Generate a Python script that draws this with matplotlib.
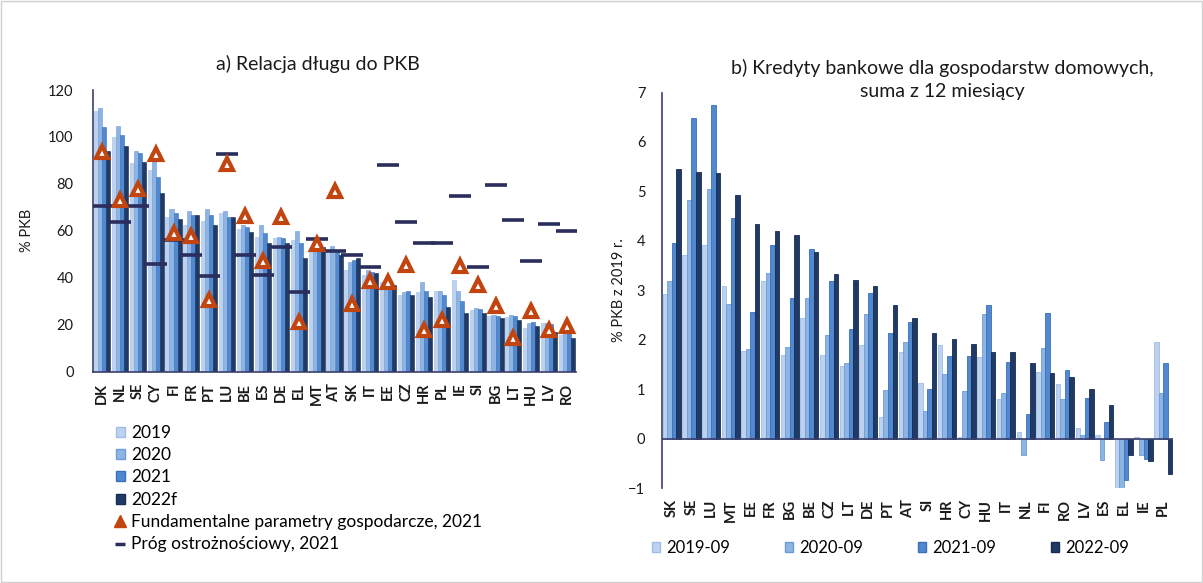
import matplotlib
matplotlib.use("Agg")
import matplotlib.pyplot as plt
import numpy as np
from matplotlib.patches import Patch, Rectangle
from matplotlib.lines import Line2D

plt.rcParams['font.family'] = ['Lato', 'DejaVu Sans']

# ---------------- Panel a data ----------------
countries_a = ['DK', 'NL', 'SE', 'CY', 'FI', 'FR', 'PT', 'LU', 'BE', 'ES', 'DE', 'EL', 'MT', 'AT',
               'SK', 'IT', 'EE', 'CZ', 'HR', 'PL', 'IE', 'SI', 'BG', 'LT', 'HU', 'LV', 'RO']
debt_2019 = [111, 100, 89, 86, 66, 62.5, 64, 67.5, 61, 57.5, 56.8, 56, 52, 51,
             43.3, 41.2, 38.4, 32.7, 34, 34.4, 39, 26.3, 23.9, 23.2, 18.8, 20.6, 15.6]
debt_2020 = [112.5, 104.7, 94, 90, 69.3, 68.5, 69.3, 68.5, 62.5, 62.5, 57.5, 60, 56, 53.7,
             46.9, 43.3, 39.1, 34.1, 38, 34.4, 34.4, 27.3, 24.1, 24.1, 20.6, 20.6, 16.3]
debt_2021 = [104.4, 100.8, 93, 83, 67.5, 66.8, 66.8, 66, 61.8, 59, 57, 55, 55, 51.8,
             47.6, 42.3, 38.4, 34.4, 34.4, 32.7, 30.1, 26.7, 23.9, 23.8, 21, 20.2, 16.3]
debt_2022f = [94, 96, 89.5, 76.3, 65, 66.8, 62.5, 66, 59.7, 54.7, 55, 48.5, 53, 49.7,
              48.4, 41.9, 37, 32.7, 32, 27.7, 24.8, 24.8, 23, 22, 19.6, 17, 14.2]
fundamentals_2021 = [93.5, 73, 77.8, 92.7, 59, 58, 30.6, 88.5, 66.5, 47, 66, 21, 54.5, 77,
                     29, 38.8, 38, 45.6, 17.8, 22, 45, 37, 28.2, 14.2, 25.7, 17.8, 19.6]
threshold_2021 = [70.7, 63.9, 70.7, 46, 56, 49.7, 40.9, 92.6, 49.7, 41, 53, 34, 56.5, 51.4,
                  49.7, 44.4, 88, 63.6, 55, 55, 75, 44.4, 79.5, 64.5, 47, 62.8, 60]
labels_a = ['2019', '2020', '2021', '2022f']

# ---------------- Panel b data ----------------
countries_b = ['SK', 'SE', 'LU', 'MT', 'EE', 'FR', 'BG', 'BE', 'CZ', 'LT', 'DE', 'PT', 'AT',
               'SI', 'HR', 'CY', 'HU', 'IT', 'NL', 'FI', 'RO', 'LV', 'ES', 'EL', 'IE', 'PL']
credit_2019_09 = [2.92, 3.71, 3.92, 3.08, 1.77, 3.18, 1.69, 2.43, 1.69, 1.47, 1.90, 0.44, 1.75,
                  1.13, 1.89, 0.04, 1.64, 0.81, 0.14, 1.35, 1.10, 0.21, 0.08, -1.0, 0.03, 1.96]
credit_2020_09 = [3.18, 4.83, 5.04, 2.72, 1.81, 3.34, 1.85, 2.84, 2.09, 1.52, 2.52, 0.98, 1.96,
                  0.56, 1.30, 0.96, 2.52, 0.93, -0.33, 1.84, 0.80, 0.08, -0.44, -1.0, -0.33, 0.93]
credit_2021_09 = [3.96, 6.49, 6.74, 4.47, 2.55, 3.92, 2.84, 3.83, 3.18, 2.21, 2.95, 2.13, 2.35,
                  1.01, 1.67, 1.67, 2.70, 1.55, 0.50, 2.54, 1.38, 0.83, 0.34, -0.84, -0.42, 1.53]
credit_2022_09 = [5.45, 5.40, 5.37, 4.93, 4.33, 4.20, 4.12, 3.78, 3.32, 3.21, 3.08, 2.70, 2.43,
                  2.13, 2.01, 1.92, 1.75, 1.75, 1.53, 1.33, 1.25, 1.00, 0.67, -0.33, -0.45, -0.72]
labels_b = ['2019-09', '2020-09', '2021-09', '2022-09']

# ---------------- Styling ----------------
colors = ['#bcd2ef', '#8db4e3', '#5089d0', '#1f3a66']
edges = ['#9fbde6', '#6e9cd6', '#3a70b8', '#172c50']
tri_col = '#c2440f'
thr_col = '#2b2d5c'
axis_col = '#3a3f6b'
txt_col = '#1a1a1a'

W, H = 1203, 583
fig = plt.figure(figsize=(W / 100, H / 100), dpi=100)
fig.patches.append(Rectangle((0.0008, 0.001), 0.998, 0.997, transform=fig.transFigure,
                             fill=False, edgecolor='#d0d0d0', linewidth=1.0))

# ---------------- Panel a ----------------
axa = fig.add_axes([93 / W, 1 - 371.7 / H, (576 - 93) / W, (371.7 - 90) / H])
xa = np.arange(len(countries_a))
series_a = [debt_2019, debt_2020, debt_2021, debt_2022f]
w = 0.225
for i, s in enumerate(series_a):
    axa.bar(xa + (i - 1.5) * w, s, width=w, color=colors[i], edgecolor=edges[i],
            linewidth=0.4, label=labels_a[i], zorder=2)
axa.plot(xa, fundamentals_2021, linestyle='none', marker='^', markersize=8.5,
         markerfacecolor='white', markeredgecolor=tri_col, markeredgewidth=3.0, zorder=4)
axa.plot(xa, threshold_2021, linestyle='none', marker='_', markersize=16,
         markeredgecolor=thr_col, markeredgewidth=2.6, zorder=3)
axa.set_xlim(-0.5, len(countries_a) - 0.5)
axa.set_ylim(0, 120)
axa.set_yticks(np.arange(0, 121, 20))
axa.set_xticks(xa)
axa.set_xticklabels(countries_a, rotation=90, fontsize=10.5, fontweight='bold', color=txt_col)
axa.tick_params(axis='y', length=0, labelsize=10.5, labelcolor=txt_col, pad=14)
axa.tick_params(axis='x', length=0, pad=8)
for sp in ['top', 'right']:
    axa.spines[sp].set_visible(False)
for sp in ['left', 'bottom']:
    axa.spines[sp].set_color(axis_col)
    axa.spines[sp].set_linewidth(1.2)
axa.set_ylabel('% PKB', fontsize=10.5, color=txt_col, labelpad=10)
fig.text(318 / W, 1 - 64 / H, 'a) Relacja długu do PKB', ha='center', va='center',
         fontsize=14, color=txt_col)

handles_a = [Patch(facecolor=colors[i], edgecolor=edges[i]) for i in range(4)]
handles_a += [Line2D([], [], linestyle='none', marker='^', markersize=8,
                     markerfacecolor=tri_col, markeredgecolor=tri_col),
              Line2D([], [], linestyle='none', marker='_', markersize=7,
                     markeredgecolor=thr_col, markeredgewidth=2.5)]
leg_labels_a = labels_a + ['Fundamentalne parametry gospodarcze, 2021',
                           'Próg ostrożnościowy, 2021']
fig.legend(handles_a, leg_labels_a, loc='upper left', bbox_to_anchor=(116 / W, 1 - 425 / H),
           frameon=False, fontsize=12.5, handlelength=0.5, handleheight=0.5,
           handletextpad=0.35, labelspacing=0.36, borderaxespad=0, borderpad=0)

# ---------------- Panel b ----------------
axb = fig.add_axes([662 / W, 1 - 488 / H, (1173 - 662) / W, (488 - 92.5) / H])
xb = np.arange(len(countries_b))
series_b = [credit_2019_09, credit_2020_09, credit_2021_09, credit_2022_09]
wb = 0.23
for i, s in enumerate(series_b):
    axb.bar(xb + (i - 1.5) * wb, s, width=wb, color=colors[i], edgecolor=edges[i],
            linewidth=0.6, label=labels_b[i], zorder=2)
axb.axhline(0, color=axis_col, linewidth=1.2, zorder=3)
axb.set_xlim(-0.5, len(countries_b) - 0.5)
axb.set_ylim(-1, 7)
axb.set_yticks(np.arange(-1, 8, 1))
axb.set_xticks(xb)
axb.set_xticklabels(countries_b, rotation=90, fontsize=10.5, fontweight='bold', color=txt_col)
axb.tick_params(axis='y', length=0, labelsize=10.5, labelcolor=txt_col, pad=12)
axb.tick_params(axis='x', length=0, pad=8)
for sp in ['top', 'right', 'bottom']:
    axb.spines[sp].set_visible(False)
axb.spines['left'].set_color(axis_col)
axb.spines['left'].set_linewidth(1.2)
axb.set_ylabel('% PKB z 2019 r.', fontsize=10.5, color=txt_col, labelpad=2)
fig.text(942 / W, 1 - 68 / H, 'b) Kredyty bankowe dla gospodarstw domowych,',
         ha='center', va='center', fontsize=14, color=txt_col)
fig.text(942 / W, 1 - 92 / H, 'suma z 12 miesiący', ha='center', va='center',
         fontsize=14, color=txt_col)

handles_b = [Patch(facecolor=colors[i], edgecolor=edges[i]) for i in range(4)]
fig.legend(handles_b, labels_b, loc='upper left', bbox_to_anchor=(652 / W, 1 - 540 / H),
           ncol=4, frameon=False, fontsize=12, handlelength=0.5, handleheight=0.5,
           handletextpad=0.35, columnspacing=3.3, borderaxespad=0, borderpad=0)

fig.savefig('out.png', dpi=100)
